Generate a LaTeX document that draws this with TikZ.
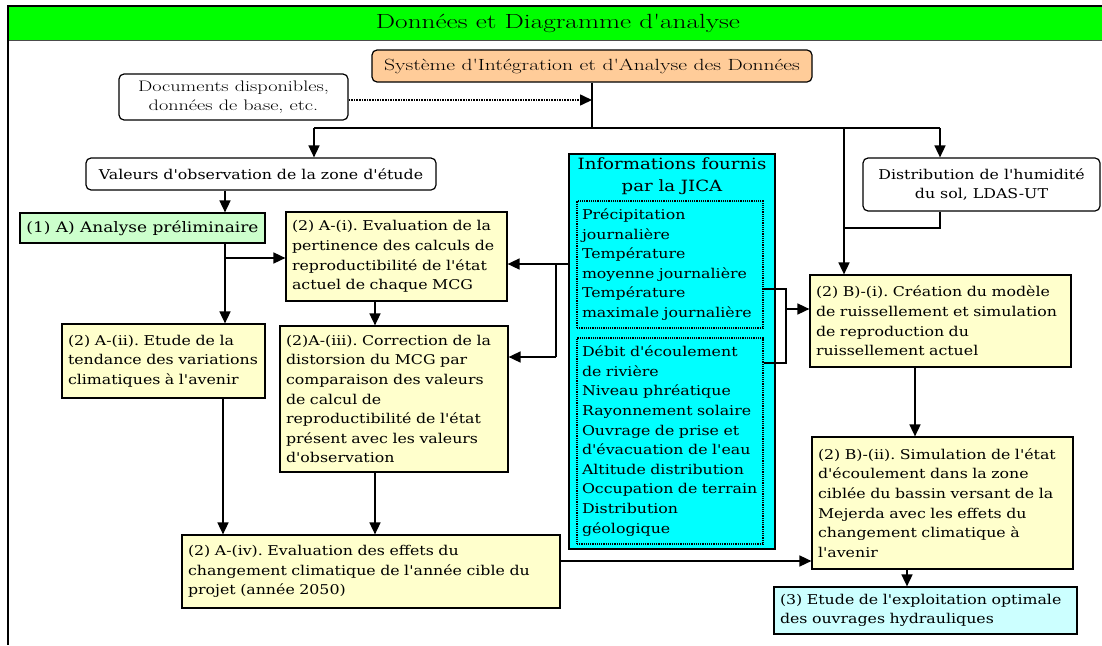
\documentclass[tikz,border=0pt]{standalone}
\usepackage{fontspec}
\newfontfamily\csfont[FakeStretch=1.17]{DejaVu Serif}
\newfontfamily\lmfont[FakeStretch=1.33]{Latin Modern Roman}
\usepackage{tikz}
\usetikzlibrary{arrows.meta,positioning,calc}
\frenchspacing

\definecolor{hdrgreen}{HTML}{00FF00}
\definecolor{sysorange}{HTML}{FFCC99}
\definecolor{preggreen}{HTML}{CCFFCC}
\definecolor{stepyellow}{HTML}{FFFFCC}
\definecolor{jicacyan}{HTML}{00FFFF}
\definecolor{optcyan}{HTML}{CCFFFF}

\begin{document}
\begin{tikzpicture}[x=1pt,y=-1pt,>={Triangle[length=12pt,width=11pt]},
  base/.style={draw,line width=1.2pt,inner xsep=6pt,inner ysep=2pt,font=\csfont\fontsize{13.5pt}{19.6pt}\selectfont},
  roundbox/.style={base,rounded corners=5pt,fill=white,align=center},
  lmbox/.style={roundbox,font=\lmfont\fontsize{15.2pt}{19.5pt}\selectfont},
  stage/.style={base,fill=stepyellow,align=left},
  datalist/.style={base,densely dotted,line width=1.4pt,align=left,inner xsep=5pt,inner ysep=0pt},
  link/.style={line width=1.6pt}]
\useasboundingbox (0,0) rectangle (1102,645);

% frame and title
\fill[hdrgreen] (8,6) rectangle (1102,40);
\draw[line width=0.8pt,black!70] (8,40) -- (1102,40);
\draw[line width=2.5pt] (8,6) -- (1102,6);
\draw[line width=1.6pt] (8,5) -- (8,645);
\node[font=\lmfont\fontsize{20.5pt}{22pt}\selectfont] (n15) at (558,23) {Données et Diagramme d'analyse};

% boxes
\node[lmbox,fill=sysorange,minimum width=440pt,minimum height=32pt,font=\lmfont\fontsize{16.2pt}{18pt}\selectfont] (n0) at (592,66) {Système d'Intégration et d'Analyse des Données};
\node[lmbox,minimum width=229pt,minimum height=46pt] (n1) at (233.5,97) {Documents disponibles,\\données de base, etc.};
\node[roundbox,minimum width=350pt,minimum height=32pt] (n2) at (261,174) {Valeurs d'observation de la zone d'étude};
\node[roundbox,minimum width=237pt,minimum height=53pt] (n3) at (981.5,184.5) {Distribution de l'humidité\\du sol, LDAS-UT};
\node[base,fill=preggreen,minimum width=245pt,minimum height=30pt,font=\csfont\fontsize{14.5pt}{18pt}\selectfont] (n4) at (142.5,228) {(1) A) Analyse préliminaire};
\node[stage,text width=209pt,minimum height=89pt] (n5) at (396.5,256.5) {(2) A-(i). Evaluation de la\\pertinence des calculs de\\reproductibilité de l'état\\actuel de chaque MCG};
\node[stage,text width=191pt,minimum height=74pt] (n6) at (163.5,361) {(2) A-(ii). Etude de la\\tendance des variations\\climatiques à l'avenir};
\node[stage,text width=216pt,minimum height=146pt] (n7) at (394,399) {(2)A-(iii). Correction de la\\distorsion du MCG par\\comparaison des valeurs\\de calcul de\\reproductibilité de l'état\\présent avec les valeurs\\d'observation};
\node[stage,text width=366pt,minimum height=73pt] (n8) at (371,571.5) {(2) A-(iv). Evaluation des effets du\\changement climatique de l'année cible du\\projet (année 2050)};
\node[base,fill=jicacyan,minimum width=206pt,minimum height=395pt,
  label={[anchor=north,yshift=-1pt,align=center,font=\csfont\fontsize{15.5pt}{22pt}\selectfont]north:{Informations fournis\\par la JICA}}] (n9) at (672,351.5) {};
\node[datalist,text width=176pt,minimum height=127pt] (n10) at (670,264.5) {Précipitation\\journalière\\Température\\moyenne journalière\\Température\\maximale journalière};
\node[datalist,text width=176pt,minimum height=206pt] (n11) at (670,441) {Débit d'écoulement\\de rivière\\Niveau phréatique\\Rayonnement solaire\\Ouvrage de prise et\\d'évacuation de l'eau\\Altitude distribution\\Occupation de terrain\\Distribution\\géologique};
\node[stage,text width=249pt,minimum height=92pt] (n12) at (940.5,321) {(2) B)-(i). Création du modèle\\de ruissellement et simulation\\de reproduction du\\ruissellement actuel};
\node[stage,text width=249pt,minimum height=132pt] (n13) at (942.5,503) {(2) B)-(ii). Simulation de l'état\\d'écoulement dans la zone\\ciblée du bassin versant de la\\Mejerda avec les effets du\\changement climatique à\\l'avenir};
\node[base,fill=optcyan,align=left,text width=291pt,minimum height=47pt] (n14) at (925.5,610.5) {(3) Etude de l'exploitation optimale\\des ouvrages hydrauliques};

% top distribution
\coordinate (t0) at (592,100);
\coordinate (t1) at (592,128);
\coordinate (c1) at (314,128);
\coordinate (c2) at (844,128);
\coordinate (c3) at (940,128);
\coordinate (c4) at (844,228);
\draw[link,densely dotted,->] (n1.east |- t0) -- (t0);
\draw[link] (n0.south) -- (t1);
\draw[link] (c1) -- (c3);
\draw[link,->] (c1) -- (c1 |- n2.north);
\draw[link,->] (c3) -- (c3 |- n3.north);
\draw[link,->] (c2) -- (c2 |- n12.north);
\draw[link] (c3 |- n3.south) |- (c4);

% branch A
\coordinate (a0) at (225,258);
\coordinate (a1) at (375,0);
\coordinate (a2) at (223,0);
\draw[link,->] (a0 |- n2.south) -- (a0 |- n4.north);
\draw[link,->] (a0 |- n4.south) -- (a0 |- n6.north);
\draw[link,->] (a0) -- (a0 -| n5.west);
\draw[link,->] (a1 |- n5.south) -- (a1 |- n7.north);
\draw[link,->] (a1 |- n7.south) -- (a1 |- n8.north);
\draw[link,->] (a2 |- n6.south) -- (a2 |- n8.north);

% JICA data
\coordinate (j0) at (556,264);
\coordinate (j1) at (556,357);
\draw[link] (n9.west |- j0) -- (j0) -- (j1);
\draw[link,->] (j0) -- (j0 -| n5.east);
\draw[link,->] (j1) -- (j1 -| n7.east);
\coordinate (k0) at (786,289);
\coordinate (k1) at (786,363);
\coordinate (k2) at (786,309);
\draw[link] (k0 -| n10.east) -- (k0) -- (k1) -- (k1 -| n11.east);
\draw[link,->] (k2) -- (k2 -| n12.west);

% branch B
\coordinate (b0) at (915,0);
\coordinate (b1) at (0,561);
\coordinate (b2) at (907,0);
\draw[link,->] (b0 |- n12.south) -- (b0 |- n13.north);
\draw[link,->] (n8.east |- b1) -- (b1 -| n13.west);
\draw[link,->] (b2 |- n13.south) -- (b2 |- n14.north);
\end{tikzpicture}
\end{document}
